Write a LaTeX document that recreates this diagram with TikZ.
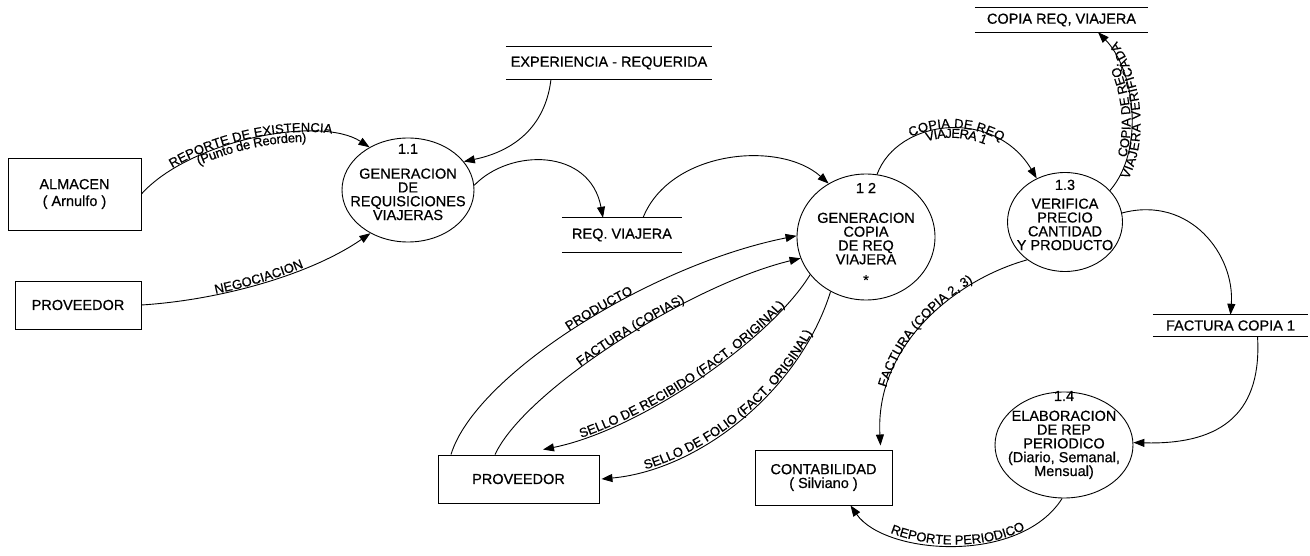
\documentclass[tikz,border=0pt]{standalone}
\usepackage{fontspec}
\setmainfont{Liberation Sans}[FakeBold=0.6]
\usetikzlibrary{arrows.meta,shapes.geometric,decorations.text}
\newcommand\nodefnt{\fontsize{14.5}{13.8}\selectfont}
\newcommand\lblfnt{\fontsize{13}{13}\selectfont}
\tikzset{
  entity/.style={draw, line width=0.9pt, inner sep=0pt, align=center, font=\nodefnt},
  proc/.style={ellipse, draw, line width=0.9pt, inner sep=0pt},
  ptext/.style={align=center, inner sep=0pt, font=\nodefnt},
  store/.style={inner sep=0pt, font=\nodefnt},
  wire/.style={line width=0.9pt},
  flow/.style={line width=0.9pt, -{Triangle[length=11pt,width=8pt]}},
  labA/.style 2 args={decorate, decoration={text along path, text={|\lblfnt|#1}, text align=center, raise=#2}},
}
\begin{document}
\begin{tikzpicture}[x=1pt,y=-1pt]
\fill[white] (0,0) rectangle (1310,556);
\useasboundingbox (0,0) rectangle (1310,556);

% external entities
\node[entity, minimum width=133, minimum height=72] (alm) at (74.5,194) {ALMACEN\\[3pt]( Arnulfo )};
\node[entity, minimum width=126, minimum height=48] (prov1) at (78,305) {PROVEEDOR};
\node[entity, minimum width=161, minimum height=48] (prov2) at (518.5,479) {PROVEEDOR};
\node[entity, minimum width=137, minimum height=55] (cont) at (823.5,477.5) {CONTABILIDAD\\( Silviano )};

% processes
\node[proc, minimum width=132, minimum height=104] (p11) at (408,190) {};
\node[ptext] (t11) at (408,182) {1.1\\[11pt]GENERACION\\DE\\REQUISICIONES\\VIAJERAS};
\node[proc, minimum width=138, minimum height=126] (p12) at (866,237) {};
\node[ptext] (t12) at (866,234) {1 2\\[16pt]GENERACION\\COPIA\\DE REQ\\VIAJERA\\[7pt]*};
\node[proc, minimum width=115, minimum height=99] (p13) at (1065,222) {};
\node[ptext] (t13) at (1065,215) {1.3\\[5pt]VERIFICA\\PRECIO\\CANTIDAD\\Y PRODUCTO};
\node[proc, minimum width=138, minimum height=106] (p14) at (1064,445) {};
\node[ptext] (t14) at (1064,435) {1.4\\[6pt]ELABORACION\\DE REP\\PERIODICO\\(Diario, Semanal,\\Mensual)};

% data stores
\node[store, minimum width=206, minimum height=32] (sexp) at (609,63) {EXPERIENCIA - REQUERIDA};
\node[store, minimum width=120, minimum height=34] (sreq) at (622,235) {REQ. VIAJERA};
\node[store, minimum width=173, minimum height=24] (scop) at (1061.5,20) {COPIA REQ, VIAJERA};
\node[store, minimum width=155, minimum height=21] (sfac) at (1230.5,325.5) {FACTURA COPIA 1};
\foreach \s in {sexp,sreq,scop,sfac}{
  \draw[wire] (\s.north west) -- (\s.north east) (\s.south west) -- (\s.south east);
}

% flows
\draw[flow] (alm.east) .. controls (190,140) and (320,115) .. (p11.132);
\path[labA={REPORTE DE EXISTENCIA}{1pt}] (alm.east) .. controls (190,140) and (320,115) .. (p11.132);
\path[labA={(Punto de Reorden)}{-9pt}] (alm.east) .. controls (190,140) and (320,115) .. (p11.132);

\draw[flow] (prov1.east) .. controls (220,300) and (310,275) .. (p11.229);
\path[labA={NEGOCIACION}{1pt}] (prov1.east) .. controls (220,300) and (310,275) .. (p11.229);

\draw[flow] ([xshift=-58pt]sexp.south) .. controls (545,130) and (510,152) .. (p11.27);

\draw[flow] (p11.4) .. controls (510,148) and (590,148) .. ([xshift=-19pt]sreq.north);

\draw[flow] ([xshift=21pt]sreq.north) .. controls (670,150) and (780,140) .. (p12.125);

\draw[flow] (p12.80) .. controls (898,118) and (995,108) .. (p13.123);
\path[labA={COPIA DE REQ}{1pt}] (p12.80) .. controls (898,118) and (995,108) .. (p13.123);
\path[labA={VIAJERA 1}{-9pt}] (p12.80) .. controls (898,118) and (995,108) .. (p13.123);

\draw[flow] (p13.35) .. controls (1145,150) and (1135,70) .. ([xshift=36.5pt]scop.south);
\path[labA={COPIA DE REQ.}{1pt}] (p13.35) .. controls (1145,150) and (1135,70) .. ([xshift=36.5pt]scop.south);
\path[labA={VIAJERA VERIFICADA}{-9pt}] (p13.35) .. controls (1145,150) and (1135,70) .. ([xshift=36.5pt]scop.south);

\draw[flow] (p13.9) .. controls (1190,195) and (1235,255) .. (sfac.north);

\draw[flow] ([xshift=27pt]sfac.south) .. controls (1262,410) and (1225,445) .. (p14.2);

\draw[flow] (p14.268) .. controls (1020,565) and (885,555) .. ([xshift=27pt]cont.south);
\path[labA={REPORTE PERIODICO}{1pt}] ([xshift=27pt]cont.south) .. controls (885,555) and (1020,565) .. (p14.268);

\draw[flow] (p13.225) .. controls (955,280) and (875,345) .. ([xshift=57pt,yshift=4pt]cont.north);
\path[labA={FACTURA (COPIA 2, 3)}{1pt}] ([xshift=57pt,yshift=4pt]cont.north) .. controls (875,345) and (955,280) .. (p13.225);

\draw[flow] ([xshift=-67.5pt]prov2.north) .. controls (475,375) and (650,265) .. (p12.179);
\path[labA={PRODUCTO}{1pt}] ([xshift=-67.5pt]prov2.north) .. controls (475,375) and (650,265) .. (p12.179);

\draw[flow] ([xshift=-23.5pt]prov2.north) .. controls (525,390) and (690,285) .. (p12.198);
\path[labA={FACTURA (COPIAS)}{1pt}] ([xshift=-23.5pt]prov2.north) .. controls (525,390) and (690,285) .. (p12.198);

\draw[flow] (p12.214) .. controls (770,340) and (640,430) .. ([xshift=24.5pt,yshift=5pt]prov2.north);
\path[labA={SELLO DE RECIBIDO (FACT. ORIGINAL)}{1pt}] ([xshift=24.5pt,yshift=5pt]prov2.north) .. controls (640,430) and (770,340) .. (p12.214);

\draw[flow] (p12.237) .. controls (800,390) and (700,470) .. ([xshift=2pt]prov2.east);
\path[labA={SELLO DE FOLIO (FACT. ORIGINAL)}{1pt}] ([xshift=2pt]prov2.east) .. controls (700,470) and (800,390) .. (p12.237);
\end{tikzpicture}
\end{document}
